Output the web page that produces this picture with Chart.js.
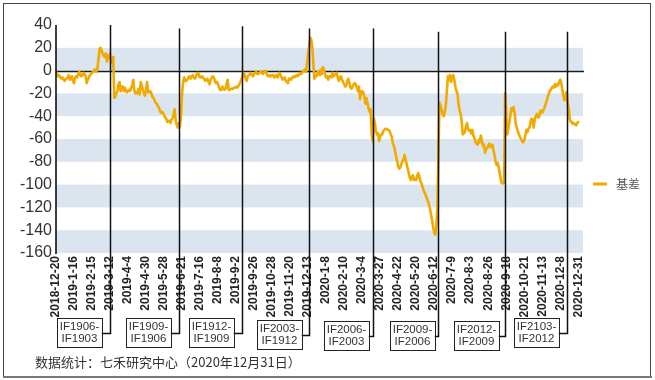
<!DOCTYPE html>
<html>
<head>
<meta charset="utf-8">
<script src="https://cdn.jsdelivr.net/npm/chart.js@4/dist/chart.umd.min.js"></script>
<style>
html,body{margin:0;padding:0;background:#fff;}
#wrap{position:relative;width:655px;height:380px;}
</style>
</head>
<body>
<div id="wrap"><canvas id="c" width="655" height="380"></canvas></div>
<script>
// ---- data ----
const seriesName = '基差';
const dateLabels = ['2018-12-20','2019-1-16','2019-2-15','2019-3-12','2019-4-4','2019-4-30','2019-5-28','2019-6-21','2019-7-16','2019-8-8','2019-9-2','2019-9-26','2019-10-28','2019-11-20','2019-12-13','2020-1-8','2020-2-10','2020-3-4','2020-3-27','2020-4-22','2020-5-20','2020-6-12','2020-7-9','2020-8-3','2020-8-26','2020-9-18','2020-10-21','2020-11-13','2020-12-8','2020-12-31'];
const labelEvery = 17; // trading days between labelled dates
const basis = [
-1,-3,-5,-4,-6,-7,-6,-7,-9,-8,
-7,-6,-4,-8,-6,-5,-9,-11,-6,-5,
-6,-3,-1,-4,-5,-4,-2,-3,-5,-11,
-8,-6,-4,-3,-2,-1,0,1,-1,1,
9,18,20,18,15,13,12,15,8,13,
11,15,7,10,12,-24,-23,-20,-18,-12,
-10,-18,-14,-14,-18,-15,-18,-19,-18,-17,
-18,-15,-13,-8,-18,-20,-19,-20,-16,-21,
-10,-13,-17,-20,-22,-17,-10,-19,-19,-18,
-20,-23,-24,-26,-28,-29,-31,-32,-35,-37,
-36,-37,-39,-41,-42,-45,-44,-44,-46,-43,
-42,-38,-34,-44,-48,-50,-46,-49,-40,-20,
-10,-6,-9,-9,-8,-6,-5,-7,-6,-4,
-6,-7,-6,-3,-2,-4,-6,-6,-5,-6,
-8,-9,-8,-7,-10,-12,-8,-6,-5,-6,
-9,-11,-10,-12,-15,-17,-17,-14,-16,-17,
-16,-12,-8,-17,-17,-16,-16,-16,-15,-15,
-14,-15,-14,-12,-10,-8,-5,-2,-3,-7,
-9,-5,-4,-3,-2,-4,-5,-3,-2,-1,
-3,-3,-2,-1,-1,-3,-2,-1,0,-3,
-5,-5,-4,-5,-4,-4,-6,-5,-4,-6,
-4,-2,-4,-6,-8,-7,-6,-9,-10,-11,
-7,-7,-8,-6,-5,-6,-5,-4,-5,-4,
-2,-3,-2,-1,0,1,-1,6,15,22,
29,27,20,5,-7,-4,-5,-1,-2,-4,
1,-3,3,1,-3,-6,-5,-8,-5,-5,
-6,-2,-5,-4,-3,-2,-6,-9,-6,-5,
-8,-10,-12,-14,-13,-9,-7,-11,-15,-16,
-14,-12,-11,-12,-15,-18,-14,-25,-19,-18,
-19,-23,-29,-24,-28,-33,-36,-34,-55,-62,
-42,-46,-53,-56,-55,-62,-58,-56,-56,-53,
-52,-51,-51,-52,-52,-53,-56,-58,-64,-66,
-70,-75,-79,-84,-86,-85,-82,-80,-78,-74,
-78,-82,-86,-90,-94,-96,-93,-92,-96,-95,
-96,-92,-90,-93,-97,-99,-102,-105,-107,-109,
-112,-114,-117,-121,-126,-131,-137,-142,-144,-137,
-120,-75,-28,-31,-34,-38,-40,-37,-30,-18,
-5,-8,-4,-10,-6,-4,-8,-14,-18,-20,
-29,-35,-38,-45,-56,-55,-54,-49,-46,-51,
-53,-52,-55,-52,-57,-59,-63,-64,-65,-61,
-63,-57,-61,-66,-65,-72,-69,-68,-66,-64,
-67,-67,-65,-70,-74,-80,-83,-81,-85,-91,
-96,-99,-99,-98,-20,-37,-56,-51,-45,-39,
-33,-35,-32,-38,-47,-50,-53,-56,-58,-60,
-62,-63,-61,-57,-52,-54,-51,-50,-45,-42,
-44,-50,-42,-40,-38,-41,-41,-36,-35,-37,
-35,-33,-30,-27,-24,-21,-18,-17,-15,-14,
-15,-12,-14,-12,-13,-10,-8,-11,-17,-22,
-26,-24,-19,-29,-33,-43,-45,-45,-47,-46,
-47,-48,-46,-45
];
const yTicks = {min:-160, max:40, step:20};
const shadedBands = [[0,20],[-40,-20],[-80,-60],[-120,-100],[-160,-140]];
const rollIndex = [51,116,176,239,299,361,424,482];
const rollTopValue = [40,37,39,37,37,34,34,34];
const rollLabels = [['IF1906-','IF1903'],['IF1909-','IF1906'],['IF1912-','IF1909'],['IF2003-','IF1912'],['IF2006-','IF2003'],['IF2009-','IF2006'],['IF2012-','IF2009'],['IF2103-','IF2012']];
const sourceNote = '数据统计：七禾研究中心（2020年12月31日）';

// ---- styles / layout ----
const ORANGE = '#f2a900';
const BAND = '#dbe5f0';
const boxGap = [9,9,9,8,5,4,7,9];
const boxTop = [318,318,318,320,321,321,321,318];
const BOX_W = 45, BOX_H = 29;

const tickIdx = dateLabels.map((_, k) => k * labelEvery);
const points = basis.map((v, i) => ({x: i, y: v}));

const decor = {
  id: 'decor',
  beforeDraw(chart) {
    const {ctx, chartArea: a, scales: {y}} = chart;
    ctx.save();
    ctx.fillStyle = '#fff';
    ctx.fillRect(0, 0, chart.width, chart.height);
    ctx.fillStyle = BAND;
    shadedBands.forEach(([lo, hi]) => {
      const y1 = y.getPixelForValue(hi), y2 = y.getPixelForValue(lo);
      ctx.fillRect(a.left, y1, a.right - a.left, y2 - y1);
    });
    ctx.restore();
  },
  beforeDatasetsDraw(chart) {
    const {ctx, chartArea: a, scales: {y}} = chart;
    ctx.save();
    const y0 = Math.round(y.getPixelForValue(0)) + 0.5;
    ctx.strokeStyle = '#1a1a1a';
    ctx.lineWidth = 1.3;
    ctx.beginPath(); ctx.moveTo(a.left, y0); ctx.lineTo(a.right + 1, y0); ctx.stroke();
    ctx.restore();
  },
  afterDatasetsDraw(chart) {
    const {ctx, chartArea: a, scales: {x, y}} = chart;
    ctx.save();
    // y axis line
    ctx.strokeStyle = '#000';
    ctx.lineWidth = 1.5;
    ctx.beginPath(); ctx.moveTo(a.left, a.top); ctx.lineTo(a.left, a.bottom + 1); ctx.stroke();
    // roll markers and boxes
    rollIndex.forEach((idx, k) => {
      const lx = Math.round(x.getPixelForValue(idx)) + 0.5;
      const top = y.getPixelForValue(rollTopValue[k]);
      const bx = lx - boxGap[k] - BOX_W;
      const by = boxTop[k];
      const cy = by + BOX_H / 2 + 1;
      ctx.strokeStyle = '#111';
      ctx.lineWidth = 1.5;
      ctx.beginPath();
      ctx.moveTo(lx, top); ctx.lineTo(lx, cy); ctx.lineTo(bx + BOX_W, cy);
      ctx.stroke();
      ctx.fillStyle = '#fff';
      ctx.fillRect(bx, by, BOX_W, BOX_H);
      ctx.lineWidth = 1;
      ctx.strokeStyle = '#222';
      ctx.strokeRect(Math.round(bx) + 0.5, by + 0.5, BOX_W, BOX_H);
      ctx.fillStyle = '#333';
      ctx.font = '11.5px "Liberation Sans", Arial, sans-serif';
      ctx.textAlign = 'center';
      ctx.textBaseline = 'middle';
      ctx.fillText(rollLabels[k][0], bx + BOX_W / 2 + 0.5, by + 9);
      ctx.fillText(rollLabels[k][1], bx + BOX_W / 2 + 0.5, by + 21);
    });
    // legend
    const ly = 184;
    ctx.strokeStyle = ORANGE;
    ctx.lineWidth = 3;
    ctx.beginPath(); ctx.moveTo(593, ly); ctx.lineTo(607, ly); ctx.stroke();
    ctx.fillStyle = '#555';
    ctx.font = '12px "Noto Sans CJK SC", sans-serif';
    ctx.textAlign = 'left';
    ctx.textBaseline = 'middle';
    ctx.fillText(seriesName, 616, ly);
    // source note
    ctx.fillStyle = '#333';
    ctx.font = '13px "Noto Sans CJK SC", sans-serif';
    ctx.fillText(sourceNote, 35, 362);
    // outer frame
    ctx.strokeStyle = '#444';
    ctx.lineWidth = 1;
    ctx.strokeRect(3.5, 3.5, 647, 373);
    ctx.strokeStyle = '#777';
    ctx.lineWidth = 2;
    ctx.beginPath(); ctx.moveTo(3, 377); ctx.lineTo(652, 377); ctx.stroke();
    ctx.restore();
  }
};

new Chart(document.getElementById('c'), {
  type: 'line',
  data: {
    datasets: [{
      label: seriesName,
      data: points,
      borderColor: ORANGE,
      borderWidth: 2.6,
      pointRadius: 0,
      tension: 0,
      borderJoinStyle: 'round',
      borderCapStyle: 'round'
    }]
  },
  options: {
    responsive: false,
    animation: false,
    events: [],
    layout: {padding: {top: 25, left: 0, right: 72, bottom: 0}},
    plugins: {legend: {display: false}, tooltip: {enabled: false}},
    scales: {
      x: {
        type: 'linear',
        min: 0,
        max: 497.5,
        afterBuildTicks(scale) { scale.ticks = tickIdx.map(v => ({value: v})); },
        afterFit(scale) { scale.height = 127; },
        grid: {display: false, drawTicks: false},
        border: {display: false},
        ticks: {
          autoSkip: false,
          minRotation: 90,
          maxRotation: 90,
          padding: 3,
          color: '#222',
          font: {family: '"Liberation Sans", Arial, sans-serif', size: 12, weight: 'bold'},
          callback(value) { const k = tickIdx.indexOf(value); return k >= 0 ? dateLabels[k] : ''; }
        }
      },
      y: {
        min: yTicks.min,
        max: yTicks.max,
        afterFit(scale) { scale.width = 56; },
        grid: {display: false, drawTicks: false},
        border: {display: false},
        ticks: {
          stepSize: yTicks.step,
          padding: 4,
          color: '#333',
          font: {family: '"Liberation Sans", Arial, sans-serif', size: 16}
        }
      }
    }
  },
  plugins: [decor]
});
</script>
</body>
</html>
